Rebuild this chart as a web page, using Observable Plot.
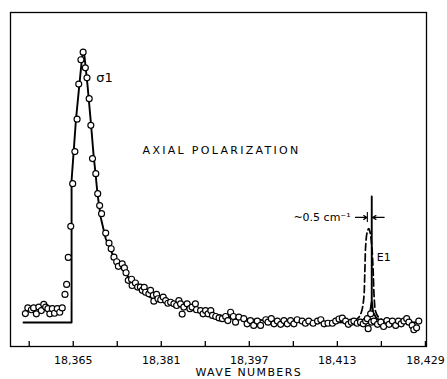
<!DOCTYPE html>
<html><head><meta charset="utf-8">
<script src="https://cdn.jsdelivr.net/npm/d3@7"></script>
<script src="https://cdn.jsdelivr.net/npm/@observablehq/plot@0.6"></script>
<style>html,body{margin:0;padding:0;background:#fff;} svg{display:block;}</style>
</head><body><div id="chart"></div>
<script>
// Observed points (open circles)
const obsWave = [18356.3,18356.75,18357.4,18357.8,18358.3,18358.75,18359.2,18359.65,18360.0,18360.4,
18360.75,18361.2,18361.6,18362.1,18362.55,18363.0,18363.5,18363.8,18364.1,18364.55,
18364.9,18365.3,18365.7,18366.0,18366.4,18366.8,18367.2,18367.5,18367.9,18368.2,
18368.5,18369.1,18369.45,18369.8,18370.15,18370.9,18371.5,18371.9,18372.4,18372.9,
18373.2,18373.9,18374.3,18374.6,18375.0,18375.6,18375.7,18376.3,18376.7,18377.2,
18377.55,18377.9,18378.15,18378.75,18379.05,18379.55,18379.65,18380.15,18380.4,18380.9,
18381.35,18381.8,18382.2,18382.7,18383.3,18383.8,18384.2,18384.5,18384.8,18385.1,
18385.7,18386.2,18386.6,18387.2,18387.4,18388.15,18388.6,18389.05,18389.5,18390.0,
18390.3,18390.9,18391.5,18392.1,18392.7,18393.1,18393.6,18394.1,18394.5,18395.1,
18396.0,18396.6,18397.2,18397.8,18398.45,18399.05,18400.0,18400.4,18401.0,18401.5,
18402.1,18402.7,18403.3,18403.9,18404.5,18405.1,18405.7,18406.6,18407.2,18407.8,
18408.6,18409.4,18410.0,18410.6,18411.3,18412.1,18412.7,18413.3,18413.9,18414.5,
18415.0,18415.55,18416.0,18416.6,18417.2,18417.7,18418.15,18418.45,18418.6,18419.05,
18419.2,18419.65,18420.3,18420.9,18421.4,18422.0,18422.4,18423.0,18423.6,18424.1,
18424.6,18425.1,18425.6,18426.0,18426.6,18426.9,18427.4,18427.8];
const obsIntensity = [3.3,5.4,4.7,5.4,3.2,5.7,4.4,6.7,5.7,5.1,
3.2,5.1,3.4,5.1,3.8,5.4,10.4,14.1,24.1,35.6,
51.4,63.3,75.3,88.3,97.3,100.1,94.3,90.6,82.9,73.0,
60.7,55.1,47.7,43.3,40.3,33.1,29.4,27.3,24.2,22.5,
20.8,21.7,20.2,18.4,15.6,16.0,13.7,14.6,13.1,13.1,
11.9,13.0,11.2,10.6,11.9,10.0,7.9,10.4,8.8,8.4,
9.4,8.1,7.1,7.5,6.9,6.3,8.1,6.9,3.1,5.7,
6.9,5.1,5.7,6.9,4.7,4.4,3.2,4.4,3.2,4.4,
2.6,2.2,1.7,1.4,2.2,0.7,3.8,2.2,0.1,2.0,
1.4,-0.5,0.7,-1.1,0.5,-1.1,1.0,0.1,1.4,-0.5,
0.5,-0.7,0.7,-0.5,0.7,-0.5,1.0,0.5,-0.3,0.5,
-0.3,0.5,1.0,-0.5,-0.3,-0.3,0.5,1.3,1.6,0.5,
-0.7,0.1,0.5,-0.3,0.1,-0.5,0.5,1.4,-2.3,3.2,
0.1,0.5,-0.7,0.1,-1.5,0.7,-0.7,0.5,-1.1,0.5,
-0.5,0.5,1.4,0.1,-1.1,-2.7,-2.0,0.5];

// Solid calculated curve (σ1 band + E1 line)
const fitWave = [18355.96,18364.7,18364.7,18365.5,18366.6,18366.8,18367.05,18367.6,18368.25,18368.7,
18369.05,18369.4,18370.0,18370.9,18371.8,18372.9,18374.1,18375.6,18377.2,18379.05,
18382.7,18388.7,18394.9,18402.7,18411.8,18417.2,18418.3,18418.95,18419.25,18419.25,
18419.25,18419.5,18420.15,18421.25,18427.8];
const fitIntensity = [0,0,52.6,75.2,98.1,100.7,98.5,87.8,73.0,61.9,
55.2,47.8,38.9,31.1,26.7,22.2,19.3,15.2,11.9,9.3,
7.0,3.7,1.5,0.4,0,0.2,1.5,3.7,8.1,46.7,
8.1,3.7,1.5,0.2,0];

// Dashed E1 profile
const dashWave = [18416.0,18416.9,18417.4,18417.8,18418.0,18418.15,18418.4,18418.7,18418.95,18419.25,18419.5,18419.7,18419.95,18420.5,18421.4];
const dashIntensity = [0.7,1.9,4.1,8.9,19.3,28.5,33.3,34.8,33.3,28.5,19.3,8.9,4.1,1.9,0.7];

// Axis ticks
const allTicks = [18357,18365,18373,18381,18389,18397,18405,18413,18421,18429];
const labelTicks = [18365,18381,18397,18413,18429];
const xLabel = "WAVE NUMBERS";
const titleText = "AXIAL POLARIZATION";

const obs = obsWave.map((w, i) => ({w, v: obsIntensity[i]}));
const fit = fitWave.map((w, i) => ({w, v: fitIntensity[i]}));
const dash = dashWave.map((w, i) => ({w, v: dashIntensity[i]}));

const chart = Plot.plot({
  width: 447, height: 379,
  marginLeft: 10, marginRight: 21, marginTop: 12, marginBottom: 33,
  style: {fontFamily: "DejaVu Sans", fontSize: "11px", background: "white", color: "black", overflow: "visible"},
  x: {domain: [18353.6, 18429.2]},
  y: {domain: [-8.9, 114.8], axis: null},
  marks: [
    Plot.frame({stroke: "black", strokeWidth: 1.3}),
    Plot.axisX(allTicks, {tickSize: -5, fill: "none", strokeWidth: 1.3, label: null}),
    Plot.axisX(labelTicks, {tickSize: 0, tickPadding: 9.5, tickFormat: d3.format(","), fontSize: 11, label: null}),
    Plot.line(fit, {x: "w", y: "v", stroke: "black", strokeWidth: 1.9}),
    Plot.line(dash, {x: "w", y: "v", stroke: "black", strokeWidth: 1.7, strokeDasharray: "7,3.5", curve: "catmull-rom"}),
    Plot.dot(obs, {x: "w", y: "v", r: 3, fill: "white", stroke: "black", strokeWidth: 1.15}),
    Plot.text(["σ1"], {x: 18369.2, y: 90.7, text: d => d, textAnchor: "start", fontSize: 13}),
    Plot.text([titleText], {x: 18377.6, y: 63.7, text: d => d, textAnchor: "start", fontSize: 11}),
    Plot.text(["~0.5 cm⁻¹"], {x: 18415.4, y: 38.9, text: d => d, textAnchor: "end", fontSize: 11}),
    Plot.text(["E1"], {x: 18420.15, y: 24.1, text: d => d, textAnchor: "start", fontSize: 11}),
    Plot.text([xLabel], {x: 18387.2, frameAnchor: "bottom", dy: 29.5, text: d => d, textAnchor: "start", fontSize: 11}),
    Plot.arrow([0], {x1: 18416.3, y1: 38.9, x2: 18418.4, y2: 38.9, stroke: "black", strokeWidth: 1.2, headLength: 5}),
    Plot.arrow([0], {x1: 18421.5, y1: 38.9, x2: 18419.4, y2: 38.9, stroke: "black", strokeWidth: 1.2, headLength: 5}),
    Plot.ruleX([18418.45], {y1: 37.0, y2: 40.7, stroke: "black", strokeWidth: 1.1})
  ]
});

d3.select(chart).selectAll("text").each(function() {
  if (this.textContent === titleText) this.setAttribute("letter-spacing", "2.3");
  if (this.textContent === xLabel) this.setAttribute("letter-spacing", "1.4");
});

document.getElementById("chart").appendChild(chart);
</script>
</body></html>
